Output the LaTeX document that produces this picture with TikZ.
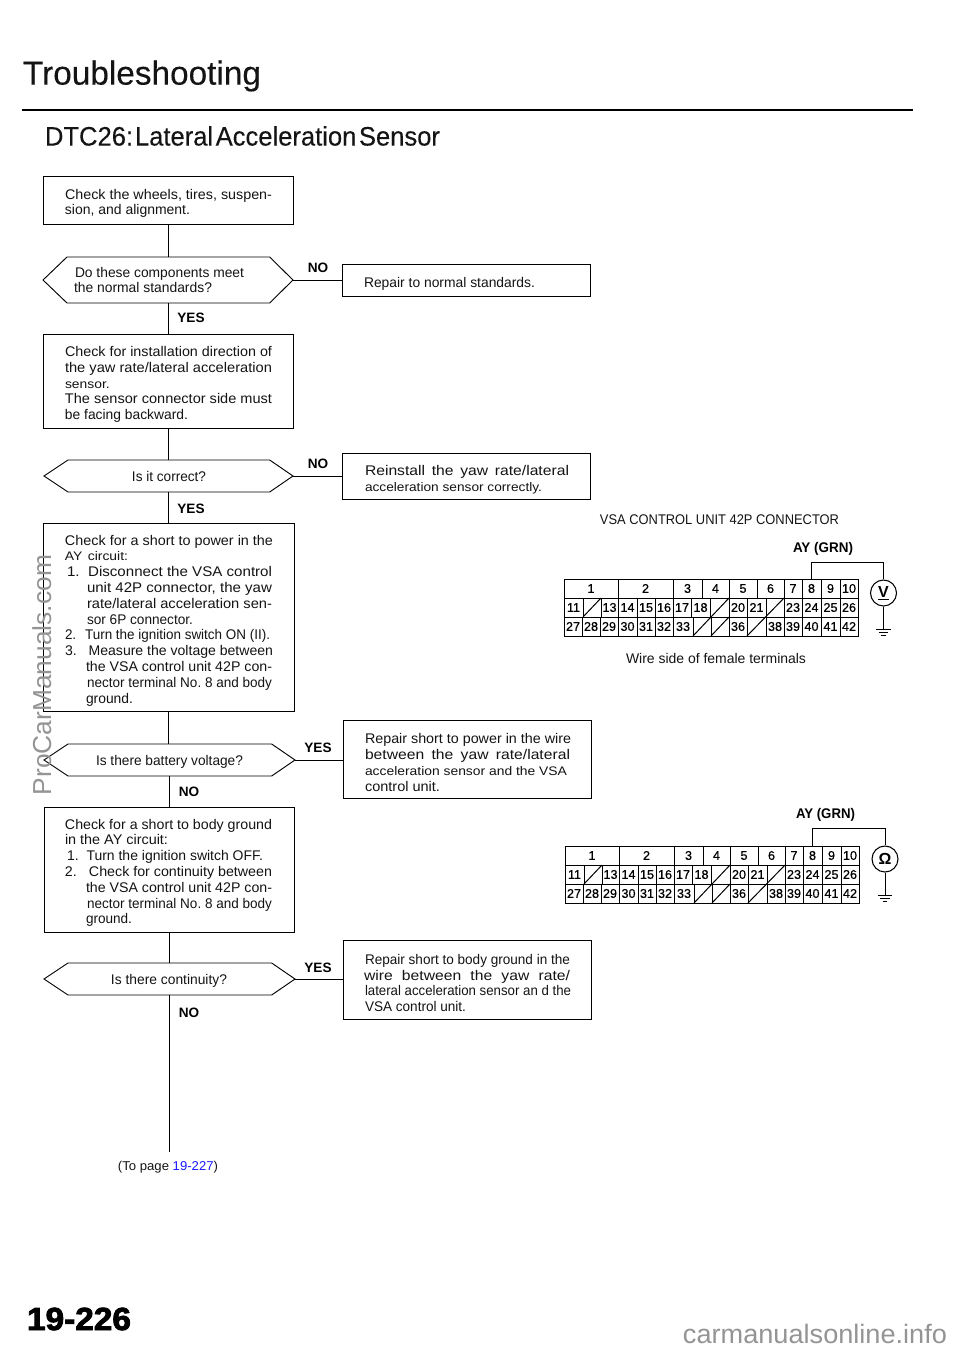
\documentclass[tikz,border=0pt]{standalone}
\usepackage{fontspec}
\setmainfont{Liberation Sans}
\newfontfamily\heavy[FakeBold=2.5]{Liberation Sans Bold}
\newfontfamily\semi[FakeBold=0.6]{Liberation Sans}
\newfontfamily\lite[FakeBold=0.2]{Liberation Sans}
\newlength\WdN
\newlength\WdT
\newlength\WdS
\newcommand\Wd[2]{\setlength\WdT{\dimexpr #1pt*3/4\relax}\setlength\WdS{\dimexpr\WdT*100/112\relax}\spaceskip=0pt\relax\xspaceskip=0pt\relax\frenchspacing\settowidth\WdN{#2}\ifdim\WdN>\WdS\resizebox{\WdT}{\height}{#2}\else\resizebox{\WdT}{\height}{\makebox[\WdS][s]{#2}}\fi}
\newcommand\Ln[3]{\hspace*{\dimexpr(#1pt-\Ox pt)*3/4\relax}\Wd{\the\numexpr #2-#1\relax}{#3}}
\newcommand\Sm{\fontsize{9.3}{11.85}\selectfont}
\newcommand\TP{\rule{0pt}{12.75pt}}
\newcommand\TQ{\rule{0pt}{10.5pt}}
\definecolor{wm}{gray}{0.58}
\definecolor{linkblue}{rgb}{0.1,0.1,1}
\tikzset{
  x=0.75pt,y=-0.75pt,
  base/.style={inner sep=0pt,outer sep=0pt,font=\fontsize{10.5}{11.85}\selectfont,text=black!92},
  fb/.style n args={3}{base,rectangle,anchor=north west,inner xsep=7.5pt,inner ysep=0pt,align=left,
    minimum width={#2*0.75pt},minimum height={#3*0.75pt},text width={(#2-20)*0.75pt},
    execute at begin node={\def\Ox{\the\numexpr #1+10\relax}}},
  flowbox/.style n args={3}{fb={#1}{#2}{#3},draw=black,line width=0.7pt},
  flow/.style={draw=black,line width=0.7pt},
  yn/.style={base,font=\fontsize{10.2}{12}\bfseries\selectfont,text=black},
  free/.style={base,anchor=center},
  cellbox/.style={draw=black,line width=0.7pt,inner sep=0pt,outer sep=0pt,font=\fontsize{9.5}{10}\semi\selectfont,text=black},
  meter/.style={circle,draw=black,line width=0.8pt,minimum size=19.5pt,inner sep=0pt,font=\fontsize{12}{12}\bfseries\selectfont},
  wire/.style={draw=black,line width=0.75pt},
}
\newcommand\hex[1]{\draw[flow] (#1.west) -- ([xshift=18pt]#1.north west) -- ([xshift=-17.5pt]#1.north east) -- (#1.east) -- ([xshift=-17.5pt]#1.south east) -- ([xshift=18pt]#1.south west) -- cycle;}
\newcommand\conn[1]{%
  \foreach \a/\b/\t in {564/618/1,618/673/2,673/702/3,702/729/4,729/757/5,757/784/6,784/802/7,802/821/8,821/840/9,840/858/10}
    \node[cellbox,minimum width={(\b-\a)*0.75pt},minimum height=14.25pt] (#1t\t) at ({(\a+\b)/2},588.5) {\t};
  \foreach \a/\b/\t in {564/583/11,583/601/,601/618/13,618/637/14,637/655/15,655/673/16,673/691/17,691/710/18,710/729/,729/747/20,747/766/21,766/784/,784/802/23,802/821/24,821/840/25,840/858/26}
    \node[cellbox,minimum width={(\b-\a)*0.75pt},minimum height=14.25pt] (#1m\a) at ({(\a+\b)/2},607.5) {\t};
  \foreach \a/\b/\t in {564/582/27,582/600/28,600/618/29,618/637/30,637/655/31,655/673/32,673/693/33,693/711/,711/729/,729/747/36,747/766/,766/784/38,784/802/39,802/821/40,821/840/41,840/858/42}
    \node[cellbox,minimum width={(\b-\a)*0.75pt},minimum height=14.25pt] (#1b\a) at ({(\a+\b)/2},626.5) {\t};
  \draw[wire] (#1m583.south west) -- (#1m583.north east);
  \draw[wire] (#1b693.south west) -- (#1m710.north east);
  \draw[wire] (#1b711.south west) -- (#1b711.north east);
  \draw[wire] (#1b747.south west) -- (#1m766.north east);
}
\newcommand\gnd[1]{%
  \draw[wire] ([xshift=-5.5pt]#1) -- ([xshift=5.5pt]#1);
  \draw[wire] ([xshift=-3.6pt,yshift=-2.4pt]#1) -- ([xshift=3.6pt,yshift=-2.4pt]#1);
  \draw[wire] ([xshift=-1.8pt,yshift=-4.8pt]#1) -- ([xshift=1.8pt,yshift=-4.8pt]#1);
}
\begin{document}
\begin{tikzpicture}
\useasboundingbox (0,0) rectangle (960,1353);
\fill[white] (0,0) rectangle (960,1353);
% headings
\node[free,font=\fontsize{25}{28}\lite\selectfont] (title) at (142,76) {\Wd{238}{Troubleshooting}};
\coordinate (ruleL) at (22,110);
\coordinate (ruleR) at (913,110);
\draw[black,line width=2.2pt] (ruleL) -- (ruleR);
\node[free,font=\fontsize{20}{22}\lite\selectfont] (sub) at (242.5,136) {\Wd{395}{DTC26:\hspace{1.5pt}Lateral\hspace{2pt}Acceleration\hspace{2pt}Sensor}};
% left column
\node[flowbox={43}{250}{48}] (b1) at (43,176) {\TP\Ln{65}{272}{Check the wheels, tires, suspen-}\\\Ln{65}{190}{sion, and alignment.}};
\node[fb={43}{250}{46}] (h1) at (43,257) {\Ln{75}{244}{Do these components meet}\\\Ln{74}{212}{the normal standards?}};
\hex{h1}
\node[flowbox={43}{250}{94}] (b2) at (43,334) {\TP\Ln{65}{272}{Check for installation direction of}\\\Ln{65}{272}{the yaw rate/lateral acceleration}\\\Ln{65}{110}{\Sm sensor.}\\\Ln{65}{272}{The sensor connector side must}\\\Ln{65}{188}{be facing backward.}};
\node[fb={44}{249}{32}] (h2) at (44,460) {\Ln{132}{206}{Is it correct?}};
\hex{h2}
\node[flowbox={43}{251}{188}] (b3) at (43,523) {\TP\Ln{65}{273}{Check for a short to power in the}\\\Ln{65}{128}{\Sm AY circuit:}\\\Ln{67}{272}{1.\hspace{3pt} Disconnect the VSA control}\\\Ln{87}{272}{unit 42P connector, the yaw}\\\Ln{87}{272}{rate/lateral acceleration sen-}\\\Ln{87}{193}{sor 6P connector.}\\\Ln{65}{270}{2.\hspace{4pt} Turn the ignition switch ON (II).}\\\Ln{65}{273}{3.\hspace{6pt} Measure the voltage between}\\\Ln{86}{272}{the VSA control unit 42P con-}\\\Ln{87}{272}{nector terminal No. 8 and body}\\\Ln{86}{133}{ground.}};
\node[fb={44}{251}{32}] (h3) at (44,744) {\TQ\Ln{96}{243}{Is there battery voltage?}};
\hex{h3}
\node[flowbox={44}{250}{125}] (b4) at (44,807) {\TP\Ln{65}{272}{Check for a short to body ground}\\\Ln{65}{168}{in the AY circuit:}\\\Ln{67}{263}{1.\hspace{3pt} Turn the ignition switch OFF.}\\\Ln{65}{272}{2.\hspace{6pt} Check for continuity between}\\\Ln{86}{272}{the VSA control unit 42P con-}\\\Ln{87}{272}{nector terminal No. 8 and body}\\\Ln{86}{132}{ground.}};
\node[fb={44}{251}{32}] (h4) at (44,963) {\TQ\Ln{111}{227}{Is there continuity?}};
\hex{h4}
% right column
\node[flowbox={342}{248}{32}] (r1) at (342,264) {\TP\Ln{364}{535}{Repair to normal standards.}};
\node[flowbox={342}{248}{46}] (r2) at (342,453) {\TP\Ln{365}{569}{Reinstall the yaw rate/lateral}\\\Ln{365}{542}{\Sm acceleration sensor correctly.}};
\node[flowbox={343}{248}{78}] (r3) at (343,720) {\TP\Ln{365}{571}{Repair short to power in the wire}\\\Ln{365}{570}{between the yaw rate/lateral}\\\Ln{365}{567}{\Sm acceleration sensor and the VSA}\\\Ln{365}{440}{control unit.}};
\node[flowbox={343}{248}{79}] (r4) at (343,940) {\TP\Ln{365}{570}{Repair short to body ground in the}\\\Ln{364}{570}{wire between the yaw rate/}\\\Ln{365}{571}{lateral acceleration sensor an d the}\\\Ln{365}{466}{VSA control unit.}};
% connectors
\draw[flow] (b1.south) -- (b1.south |- h1.north);
\draw[flow] (h1.south) -- (h1.south |- b2.north);
\draw[flow] (b2.south) -- (b2.south |- h2.north);
\draw[flow] (h2.south) -- (h2.south |- b3.north);
\draw[flow] (b3.south) -- (b3.south |- h3.north);
\draw[flow] (h3.south) -- (h3.south |- b4.north);
\draw[flow] (b4.south) -- (b4.south |- h4.north);
\coordinate (flowend) at (169.5,1152);
\draw[flow] (h4.south) -- (h4.south |- flowend);
\draw[flow] (h1.east) -- (h1.east -| r1.west);
\draw[flow] (h2.east) -- (h2.east -| r2.west);
\draw[flow] (h3.east) -- (h3.east -| r3.west);
\draw[flow] (h4.east) -- (h4.east -| r4.west);
% branch labels
\node[yn] (no1) at (318,268) {NO};
\node[yn] (yes1) at (191,318) {YES};
\node[yn] (no2) at (318,464) {NO};
\node[yn] (yes2) at (191,509) {YES};
\node[yn] (yes3) at (318,748) {YES};
\node[yn] (no3) at (189,792) {NO};
\node[yn] (yes4) at (318,968) {YES};
\node[yn] (no4) at (189,1013) {NO};
% connector diagrams
\node[free,font=\fontsize{10.5}{12}\selectfont] (vsa) at (719.5,520) {\Wd{239}{VSA CONTROL UNIT 42P CONNECTOR}};
\conn{A}
\node[yn,font=\fontsize{10.5}{12}\bfseries\selectfont] (ayA) at (823,549) {\Wd{60}{AY (GRN)}};
\node[meter] (mV) at (883.5,593) {\underline{V}};
\draw[wire] (At8.north) -- ++(0,-17) -| (mV.north);
\coordinate (gA) at (883.5,629);
\draw[wire] (mV.south) -- (gA);
\gnd{gA}
\node[free] (wireside) at (716,658) {\Wd{180}{Wire side of female terminals}};
\begin{scope}[shift={(1,267)}]
\conn{B}
\end{scope}
\node[yn,font=\fontsize{10.5}{12}\bfseries\selectfont] (ayB) at (825.5,815) {\Wd{59}{AY (GRN)}};
\node[meter] (mO) at (885,859) {Ω};
\draw[wire] (Bt8.north) -- ++(0,-18) -| (mO.north);
\coordinate (gB) at (885,895);
\draw[wire] (mO.south) -- (gB);
\gnd{gB}
% page furniture
\node[free,font=\fontsize{9.6}{12}\selectfont] (topage) at (168,1167) {\Wd{100}{(To page \textcolor{linkblue}{19-227})}};
\node[free,font=\fontsize{24}{28}\heavy\selectfont,text=black] (pageno) at (79,1319) {\Wd{104}{19-226}};
\node[free,font=\fontsize{19.5}{22}\selectfont,text=wm,rotate=90] (wm1) at (42,675) {\Wd{240}{ProCarManuals.com}};
\node[free,font=\fontsize{20}{22}\selectfont,text=wm] (wm2) at (815,1334) {\Wd{264}{carmanualsonline.info}};
\end{tikzpicture}
\end{document}
